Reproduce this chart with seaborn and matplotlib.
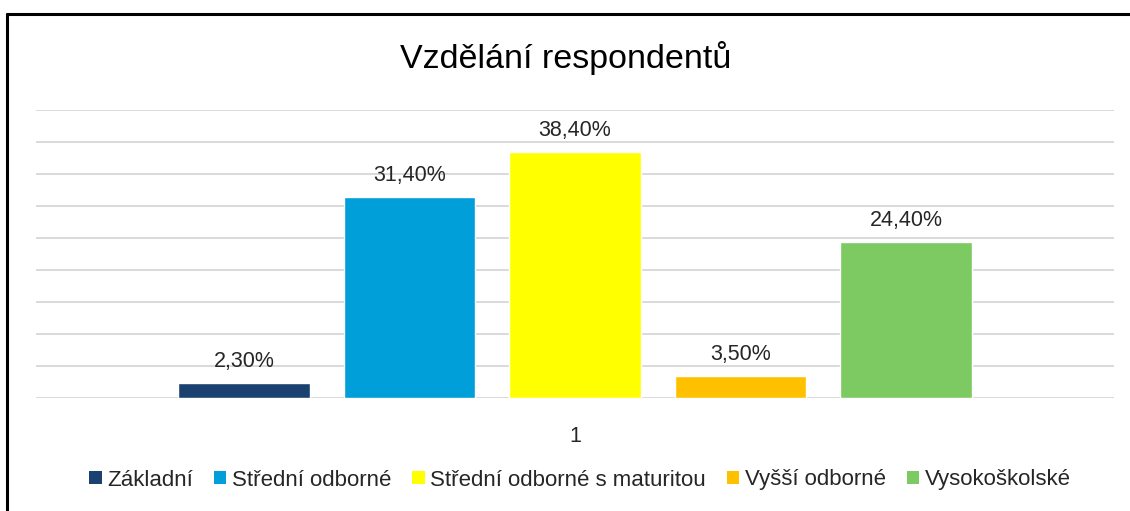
import matplotlib
matplotlib.use("Agg")
import matplotlib.pyplot as plt
import seaborn as sns
import pandas as pd
from matplotlib.lines import Line2D
from matplotlib.patches import Patch

categories = ["Základní", "Střední odborné", "Střední odborné s maturitou", "Vyšší odborné", "Vysokoškolské"]
values = [2.3, 31.4, 38.4, 3.5, 24.4]
group_labels = ["1"] * 5
colors = ["#1b4170", "#009fda", "#ffff00", "#ffc000", "#7dc962"]

sns.set_theme(style="white")
plt.rcParams['font.family'] = ['Liberation Sans', 'DejaVu Sans']

df = pd.DataFrame({"group": group_labels, "cat": categories, "value": values})

fig = plt.figure(figsize=(11.3, 5.11), dpi=100)
ax = fig.add_axes([36/1130, 113/511, 1078/1130, 288/511])

sns.barplot(data=df, x="group", y="value", hue="cat", hue_order=categories,
            palette=colors, width=0.768, gap=0.205, dodge=True, ax=ax,
            legend=False, saturation=1)

ax.set_xlim(-0.5, 0.5)
ax.set_ylim(0, 45)
ax.set_yticks(range(0, 46, 5))
ax.yaxis.grid(True, color="#d9d9d9", linewidth=1.4)
ax.set_axisbelow(True)
ax.tick_params(axis="y", left=False, labelleft=False)
ax.tick_params(axis="x", bottom=False, labelsize=15.5, labelcolor="#262626", pad=14)
for s in ax.spines.values():
    s.set_visible(False)
ax.set_xlabel("")
ax.set_ylabel("")

for cont in ax.containers:
    for bar, v in zip(cont, cont.datavalues):
        ax.annotate(f"{v:.2f}".replace(".", ",") + "%",
                    (bar.get_x() + bar.get_width() / 2, bar.get_height()),
                    xytext=(0, 11.5), textcoords="offset points",
                    ha="center", va="baseline", fontsize=15.5, color="#262626")

fig.text(566/1130, 1 - 58/511, "Vzdělání respondentů", ha="center", va="center",
         fontsize=24.5, color="#000000")

handles = [Patch(facecolor=c, edgecolor="none") for c in colors]
fig.legend(handles, categories, loc="center", bbox_to_anchor=(580/1130, 1 - 480/511),
           ncol=5, frameon=False, fontsize=16, handlelength=0.55, handleheight=0.55,
           handletextpad=0.25, columnspacing=0.95, labelcolor="#262626")

# outer border (top and left visible)
fig.add_artist(Line2D([7/1130, 7/1130], [0, 1 - 14/511], color="black", linewidth=2.2,
                      transform=fig.transFigure))
fig.add_artist(Line2D([7/1130, 1], [1 - 14/511, 1 - 14/511], color="black", linewidth=2.2,
                      transform=fig.transFigure))

fig.savefig("out.png", dpi=100, facecolor="white")
